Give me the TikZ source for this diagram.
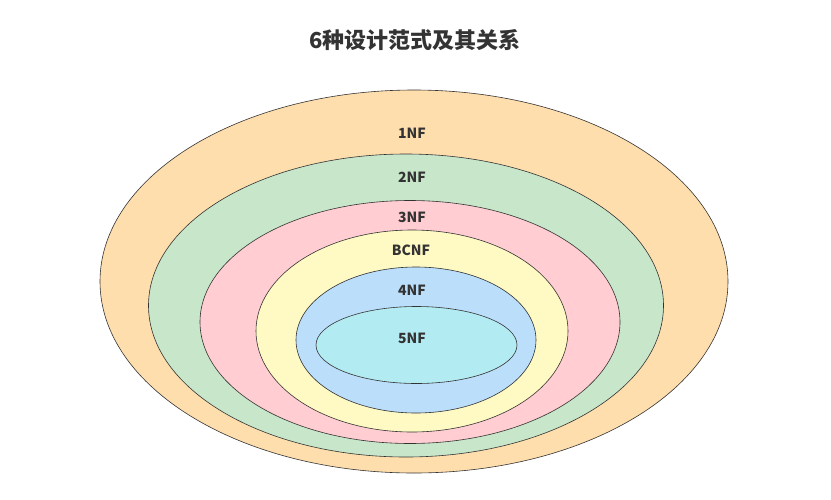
\documentclass[tikz,border=0pt]{standalone}
\usepackage{fontspec}
\setmainfont{Noto Sans CJK SC}
\usepackage{xcolor}
\usetikzlibrary{shapes.geometric}

\definecolor{nf1}{HTML}{FFDEAD}
\definecolor{nf2}{HTML}{C8E6C9}
\definecolor{nf3}{HTML}{FFCDD2}
\definecolor{nfbc}{HTML}{FFF9C4}
\definecolor{nf4}{HTML}{BBDEFB}
\definecolor{nf5}{HTML}{B2EBF2}
\definecolor{inkgray}{HTML}{333333}

\begin{document}
\begin{tikzpicture}[x=1pt, y=-1pt,
    ring/.style={draw=inkgray, line width=0.6pt, ellipse, inner sep=0pt},
    lbl/.style={font=\fontsize{14}{16}\selectfont\bfseries, text=inkgray, inner sep=0pt}]

\useasboundingbox (0,0) rectangle (831,499);

\node[font=\fontsize{22}{26}\selectfont\bfseries, text=inkgray] (title) at (415,40) {6种设计范式及其关系};

% nested forms, outermost first
\node[ring, fill=nf1, minimum width=628pt, minimum height=383pt] (e1) at (414,281.5) {};
\node[ring, fill=nf2, minimum width=515pt, minimum height=303pt] (e2) at (406,305.5) {};
\node[ring, fill=nf3, minimum width=420pt, minimum height=243pt] (e3) at (410,322) {};
\node[ring, fill=nfbc, minimum width=312pt, minimum height=202pt] (ebc) at (412,331) {};
\node[ring, fill=nf4, minimum width=240pt, minimum height=146pt] (e4) at (416,340) {};
\node[ring, fill=nf5, minimum width=201pt, minimum height=77pt] (e5) at (416.5,345) {};

\node[lbl] (l1) at (412,133) {1NF};
\node[lbl] (l2) at (412,177) {2NF};
\node[lbl] (l3) at (412,217) {3NF};
\node[lbl] (lbc) at (411,250) {BCNF};
\node[lbl] (l4) at (412,290) {4NF};
\node[lbl] (l5) at (412,338) {5NF};
\end{tikzpicture}
\end{document}
